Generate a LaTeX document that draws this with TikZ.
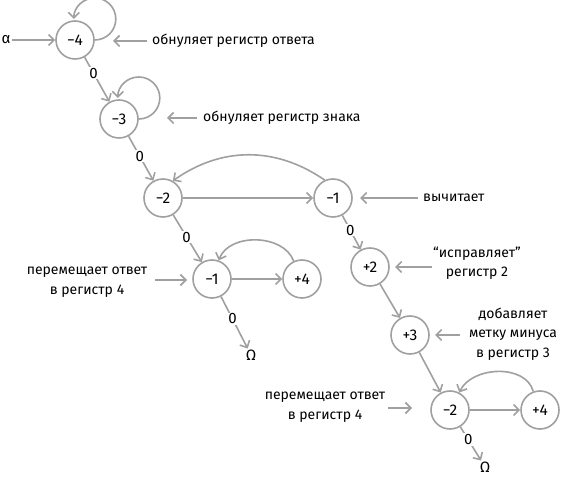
\documentclass[tikz,border=0pt]{standalone}
\usepackage{fontspec}
\setmainfont{Fira Sans}
\usetikzlibrary{arrows.meta}
\definecolor{lg}{HTML}{A0A0A0}
\begin{document}
\begin{tikzpicture}[x=1pt,y=1pt,
  st/.style={circle,draw=lg,line width=1.6pt,minimum size=38pt,inner sep=0pt,fill=white,font=\fontsize{15.5}{17}\selectfont},
  ar/.style={draw=lg,line width=1.6pt,-{Straight Barb[length=5.5pt,width=11pt,line width=1.6pt]}},
  lab/.style={fill=white,inner sep=1pt,font=\fontsize{15}{17}\selectfont},
  txt/.style={align=center,inner sep=0pt,font=\fontsize{14}{19.5}\selectfont}]
\useasboundingbox (0,0) rectangle (561,476);
% states
\node[st] (m4) at (75,436) {−4};
\node[st] (m3) at (119,357) {−3};
\node[st] (m2) at (163,278) {−2};
\node[st] (m1r) at (333,278) {−1};
\node[st] (m1l) at (212,197) {−1};
\node[st] (p4l) at (302,197) {+4};
\node[st] (p2) at (370,209) {+2};
\node[st] (p3) at (410,141) {+3};
\node[st] (m2b) at (450,66) {−2};
\node[st] (p4b) at (540,66) {+4};
\node[lab,fill=none] (al) at (6,436) {α};
\node[lab,fill=none] (om1) at (251,121) {Ω};
\node[lab,fill=none] (om2) at (485,9) {Ω};
% transitions
\draw[ar] (al) -- (m4);
\draw[ar] (m4.east) arc[start angle=-90,end angle=180,radius=21];
\draw[ar] (m3.east) arc[start angle=-90,end angle=180,radius=21];
\draw[ar] (m4) -- node[lab,pos=0.36]{0} (m3);
\draw[ar] (m3) -- node[lab,pos=0.45]{0} (m2);
\draw[ar] (m2) -- (m1r);
\draw[ar] (m1r.115) to[bend right=35] (m2.60);
\draw[ar] (m2) -- node[lab,pos=0.47]{0} (m1l);
\draw[ar] (m1l) -- (p4l);
\draw[ar] (p4l.115) to[out=110,in=70] (m1l.70);
\draw[ar] (m1l) -- node[lab,pos=0.43]{0} (om1);
\draw[ar] (m1r) -- node[lab,pos=0.43]{0} (p2);
\draw[ar] (p2) -- (p3);
\draw[ar] (p3) -- (m2b);
\draw[ar] (m2b) -- (p4b);
\draw[ar] (p4b.110) to[out=105,in=65] (m2b.62);
\draw[ar] (m2b) -- node[lab,pos=0.38]{0} (om2);
% annotations
\node[txt,anchor=west] (t1) at (152,435) {обнуляет регистр ответа};
\node[txt,anchor=west] (t2) at (203,358) {обнуляет регистр знака};
\node[txt,anchor=west] (t3) at (423,278) {вычитает};
\node[txt] (t4) at (477,213) {“исправляет”\\регистр 2};
\node[txt] (t5) at (513,142) {добавляет\\метку минуса\\в регистр 3};
\node[txt] (t6) at (87,194) {перемещает ответ\\в регистр 4};
\node[txt] (t7) at (325,69) {перемещает ответ\\в регистр 4};
\coordinate (h1) at (113,435);
\coordinate (h2) at (167,358);
\coordinate (h3) at (360,278);
\coordinate (h4) at (395,209);
\coordinate (h5) at (435,141);
\coordinate (h6) at (187,196);
\coordinate (h7) at (412,68);
\coordinate (s4) at (432,209);
\coordinate (s5) at (460,141);
\coordinate (s6) at (155,196);
\coordinate (s7) at (388,68);
\draw[ar] ([xshift=-5pt]t1.west) -- (h1);
\draw[ar] ([xshift=-6pt]t2.west) -- (h2);
\draw[ar] ([xshift=-5pt]t3.west) -- (h3);
\draw[ar] (s4) -- (h4);
\draw[ar] (s5) -- (h5);
\draw[ar] (s6) -- (h6);
\draw[ar] (s7) -- (h7);
\end{tikzpicture}
\end{document}
